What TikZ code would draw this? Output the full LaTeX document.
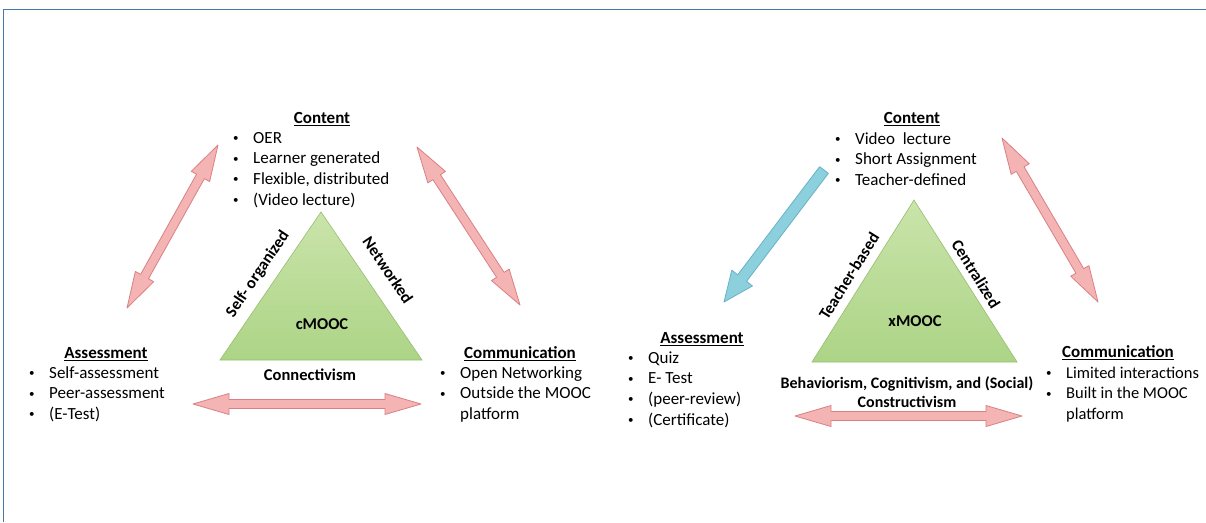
\documentclass[tikz,border=0pt]{standalone}
\usepackage{fontspec}
\setmainfont{Carlito}
\usetikzlibrary{calc,positioning}

\definecolor{framecol}{RGB}{70,120,172}
\definecolor{pinkfill}{RGB}{244,180,180}
\definecolor{pinkline}{RGB}{218,128,132}
\definecolor{bluefill}{RGB}{140,208,222}
\definecolor{blueline}{RGB}{105,178,198}
\definecolor{greentop}{RGB}{202,228,170}
\definecolor{greenbot}{RGB}{172,212,134}
\definecolor{greenline}{RGB}{150,190,112}

\tikzset{
	head/.style={font=\fontsize{17}{20}\selectfont\bfseries, inner sep=0pt, anchor=base},
	items/.style={font=\fontsize{17}{20.7}\selectfont, inner sep=0pt, anchor=base west},
	sidelabel/.style={font=\fontsize{16.5}{19}\selectfont\bfseries, inner sep=0pt},
	twoway/.style={draw=pinkline, fill=pinkfill, line width=0.8pt, line join=round},
	oneway/.style={draw=blueline, fill=bluefill, line width=0.8pt, line join=round},
	mooc/.style={draw=greenline, top color=greentop, bottom color=greenbot, line width=0.6pt}
}

\newcommand{\blist}[1]{\begin{tabular}[t]{@{}l@{}l@{}}#1\end{tabular}}
\newcommand{\bul}{\makebox[21pt][l]{\hspace{1pt}\raisebox{1.6pt}{\fontsize{11}{11}\selectfont\textbullet}}}

\newcommand{\pinkarrow}[2]{%
	\coordinate (hA) at ($(#1)!36pt!(#2)$);
	\coordinate (hB) at ($(#2)!36pt!(#1)$);
	\draw[twoway] (#1)
		-- ($(hA)!10.5pt!90:(#2)$) -- ($(hA)!4.5pt!90:(#2)$)
		-- ($(hB)!4.5pt!-90:(#1)$) -- ($(hB)!10.5pt!-90:(#1)$)
		-- (#2)
		-- ($(hB)!10.5pt!90:(#1)$) -- ($(hB)!4.5pt!90:(#1)$)
		-- ($(hA)!4.5pt!-90:(#2)$) -- ($(hA)!10.5pt!-90:(#2)$)
		-- cycle;
}
\newcommand{\bluearrow}[2]{%
	\coordinate (hB) at ($(#2)!30pt!(#1)$);
	\draw[oneway] ($(#1)!5.5pt!90:(#2)$)
		-- ($(hB)!5.5pt!-90:(#1)$) -- ($(hB)!13pt!-90:(#1)$)
		-- (#2)
		-- ($(hB)!13pt!90:(#1)$) -- ($(hB)!5.5pt!90:(#1)$)
		-- ($(#1)!5.5pt!-90:(#2)$)
		-- cycle;
}

\begin{document}
\begin{tikzpicture}[x=1pt, y=-1pt]
	\useasboundingbox (0, 0) rectangle (1206, 522);
	\fill[white] (0, 0) rectangle (1206, 522);
	\draw[framecol, line width=1.5pt] (3.5, 522) -- (3.5, 9.5) -- (1206, 9.5);

	\coordinate (cTop) at (321, 212);
	\coordinate (cLeft) at (220, 360);
	\coordinate (cRight) at (422, 360);
	\draw[mooc] (cLeft) -- (cTop) -- (cRight) -- cycle;

	\node[sidelabel] (cMOOC) at (322, 324) {cMOOC};
	\node[sidelabel] (cTheory) at (310, 375) {Connectivism};
	\node[sidelabel, rotate=56] (cSelf) at (258, 274) {Self- organized};
	\node[sidelabel, rotate=-56] (cNet) at (388, 270) {Networked};

	\node[head] (cContentHead) at (322, 123.5) {\underline{Content}};
	\node[items] (cContent) at (232, 143) {\blist{
		\bul & OER\\
		\bul & Learner generated\\
		\bul & Flexible, distributed\\
		\bul & (Video lecture)}};
	\node[head] (cAssessHead) at (106, 358.5) {\underline{Assessment}};
	\node[items] (cAssess) at (28, 378) {\blist{
		\bul & Self-assessment\\
		\bul & Peer-assessment\\
		\bul & (E-Test)}};
	\node[head] (cCommHead) at (520, 358.5) {\underline{Communication}};
	\node[items] (cComm) at (439, 378) {\blist{
		\bul & Open Networking\\
		\bul & Outside the MOOC\\
		& platform}};

	\coordinate (cCA1) at (218, 145);
	\coordinate (cCA2) at (127, 308);
	\coordinate (cCC1) at (417, 147);
	\coordinate (cCC2) at (520, 305);
	\coordinate (cAC1) at (193, 404);
	\coordinate (cAC2) at (421, 404);
	\pinkarrow{cCA1}{cCA2}
	\pinkarrow{cCC1}{cCC2}
	\pinkarrow{cAC1}{cAC2}

	\coordinate (xTop) at (914, 200);
	\coordinate (xLeft) at (812, 362);
	\coordinate (xRight) at (1017, 362);
	\draw[mooc] (xLeft) -- (xTop) -- (xRight) -- cycle;

	\node[sidelabel] (xMOOC) at (915, 321) {xMOOC};
	\node[sidelabel, align=center, font=\fontsize{16}{19}\selectfont\bfseries] (xTheory) at (907, 392)
		{Behaviorism, Cognitivism, and (Social)\\Constructivism};
	\node[sidelabel, rotate=58] (xTeacher) at (849, 276) {Teacher-based};
	\node[sidelabel, rotate=-58] (xCentral) at (976, 274) {Centralized};

	\node[head] (xContentHead) at (912, 123.5) {\underline{Content}};
	\node[items] (xContent) at (834, 144) {\blist{
		\bul & Video\ \ lecture\\
		\bul & Short Assignment\\
		\bul & Teacher-defined}};
	\node[head] (xAssessHead) at (702, 343.5) {\underline{Assessment}};
	\node[items] (xAssess) at (627, 363) {\blist{
		\bul & Quiz\\
		\bul & E- Test\\
		\bul & (peer-review)\\
		\bul & (Certificate)}};
	\node[head] (xCommHead) at (1118, 357.5) {\underline{Communication}};
	\node[items, font=\fontsize{16.5}{20.7}\selectfont] (xComm) at (1045, 378) {\blist{
		\bul & Limited interactions\\
		\bul & Built in the MOOC\\
		& platform}};

	\coordinate (xCA1) at (824, 170);
	\coordinate (xCA2) at (724, 302);
	\coordinate (xCC1) at (1002, 138);
	\coordinate (xCC2) at (1098, 302);
	\coordinate (xAC1) at (795, 416);
	\coordinate (xAC2) at (1022, 416);
	\bluearrow{xCA1}{xCA2}
	\pinkarrow{xCC1}{xCC2}
	\pinkarrow{xAC1}{xAC2}
\end{tikzpicture}
\end{document}
